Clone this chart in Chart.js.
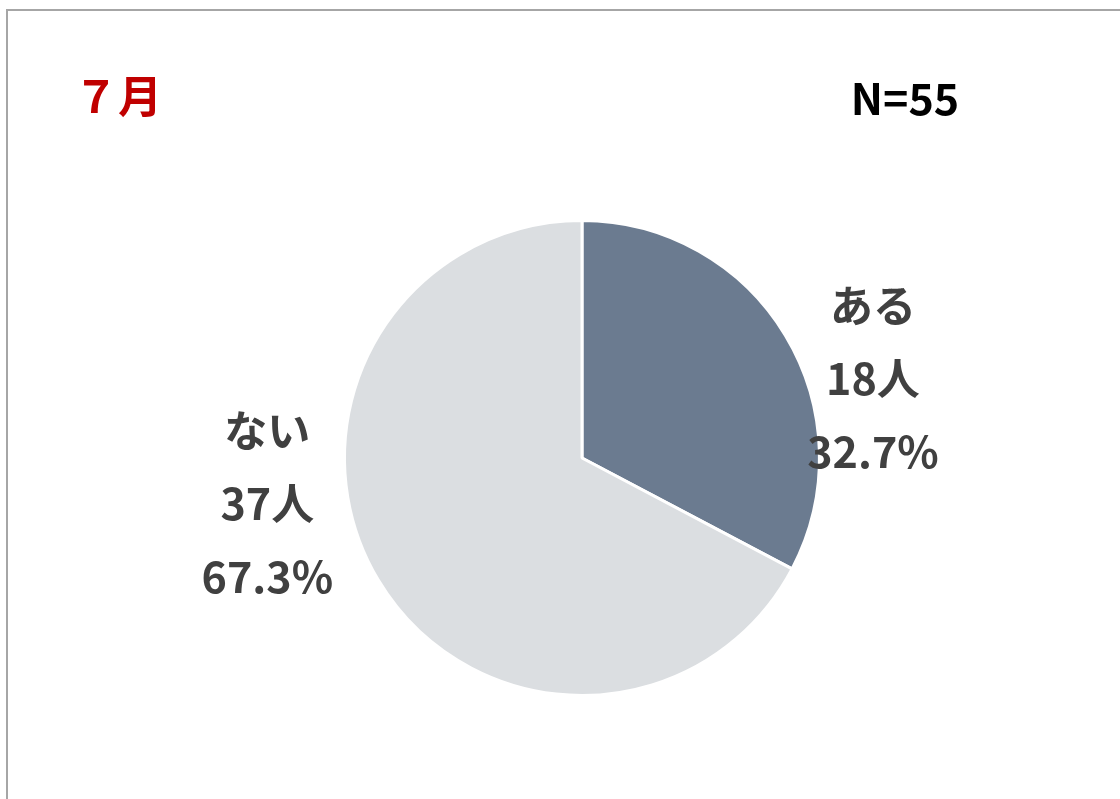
<!DOCTYPE html>
<html>
<head>
<meta charset="utf-8">
<script src="https://cdn.jsdelivr.net/npm/chart.js@4"></script>
<style>
	html, body { margin: 0; padding: 0; background: #fff; overflow: hidden; }
	#frame {
		position: absolute; left: 6px; top: 9px;
		width: 1200px; height: 900px;
		border: 2px solid #a6a6a6;
	}
	#wrap { position: absolute; left: 0; top: 0; width: 1120px; height: 799px; }
</style>
</head>
<body>
<div id="frame"></div>
<div id="wrap"><canvas id="pie-chartcanvas" width="1120" height="799"></canvas></div>
<script>
	// values
	var categories = ["ある", "ない"];
	var counts = [18, 37];
	var percents = ["32.7%", "67.3%"];
	var titleText = "７月";
	var totalText = "N=55";

	var jpFont = "'Noto Sans CJK JP', 'Noto Sans', sans-serif";

	// draws header texts and the data labels beside each slice
	var labelPlugin = {
		id : "pieLabels",
		afterDraw : function(chart, args, opts) {
			var ctx = chart.ctx;
			ctx.save();
			ctx.textAlign = "center";
			ctx.textBaseline = "middle";

			ctx.font = "bold 44px " + jpFont;
			ctx.fillStyle = "#c00000";
			ctx.fillText(titleText, 118, 96);

			ctx.font = "bold 43px " + jpFont;
			ctx.fillStyle = "#000";
			ctx.fillText(totalText, 905, 99);

			var arcs = chart.getDatasetMeta(0).data;
			ctx.font = "bold 43px " + jpFont;
			ctx.fillStyle = "#404040";
			arcs.forEach(function(arc, i) {
				var r = arc.outerRadius;
				var off = opts.offsets[i];
				var cx = arc.x + off[0] * r;
				var cy = arc.y + off[1] * r;
				var lines = [categories[i], counts[i] + "人", percents[i]];
				lines.forEach(function(t, j) {
					ctx.fillText(t, cx, cy + (j - 1) * opts.lineGap);
				});
			});
			ctx.restore();
		}
	};

	var ctx = document.getElementById("pie-chartcanvas");

	var data = {
		labels : categories,
		datasets : [
			{
				data : counts,
				backgroundColor : ["#6b7b90", "#dbdee1"],
				borderColor : "#ffffff",
				borderWidth : 3,
				hoverOffset : 0
			}
		]
	};

	var options = {
		responsive : false,
		animation : false,
		layout : {
			padding : { left : 343, right : 299, top : 219, bottom : 102 }
		},
		plugins : {
			legend : { display : false },
			tooltip : { enabled : false },
			pieLabels : {
				offsets : [[1.225, -0.333], [-1.325, 0.194]],
				lineGap : 73
			}
		}
	};

	var chart = new Chart(ctx, {
		type : "pie",
		data : data,
		options : options,
		plugins : [labelPlugin]
	});
</script>
</body>
</html>
